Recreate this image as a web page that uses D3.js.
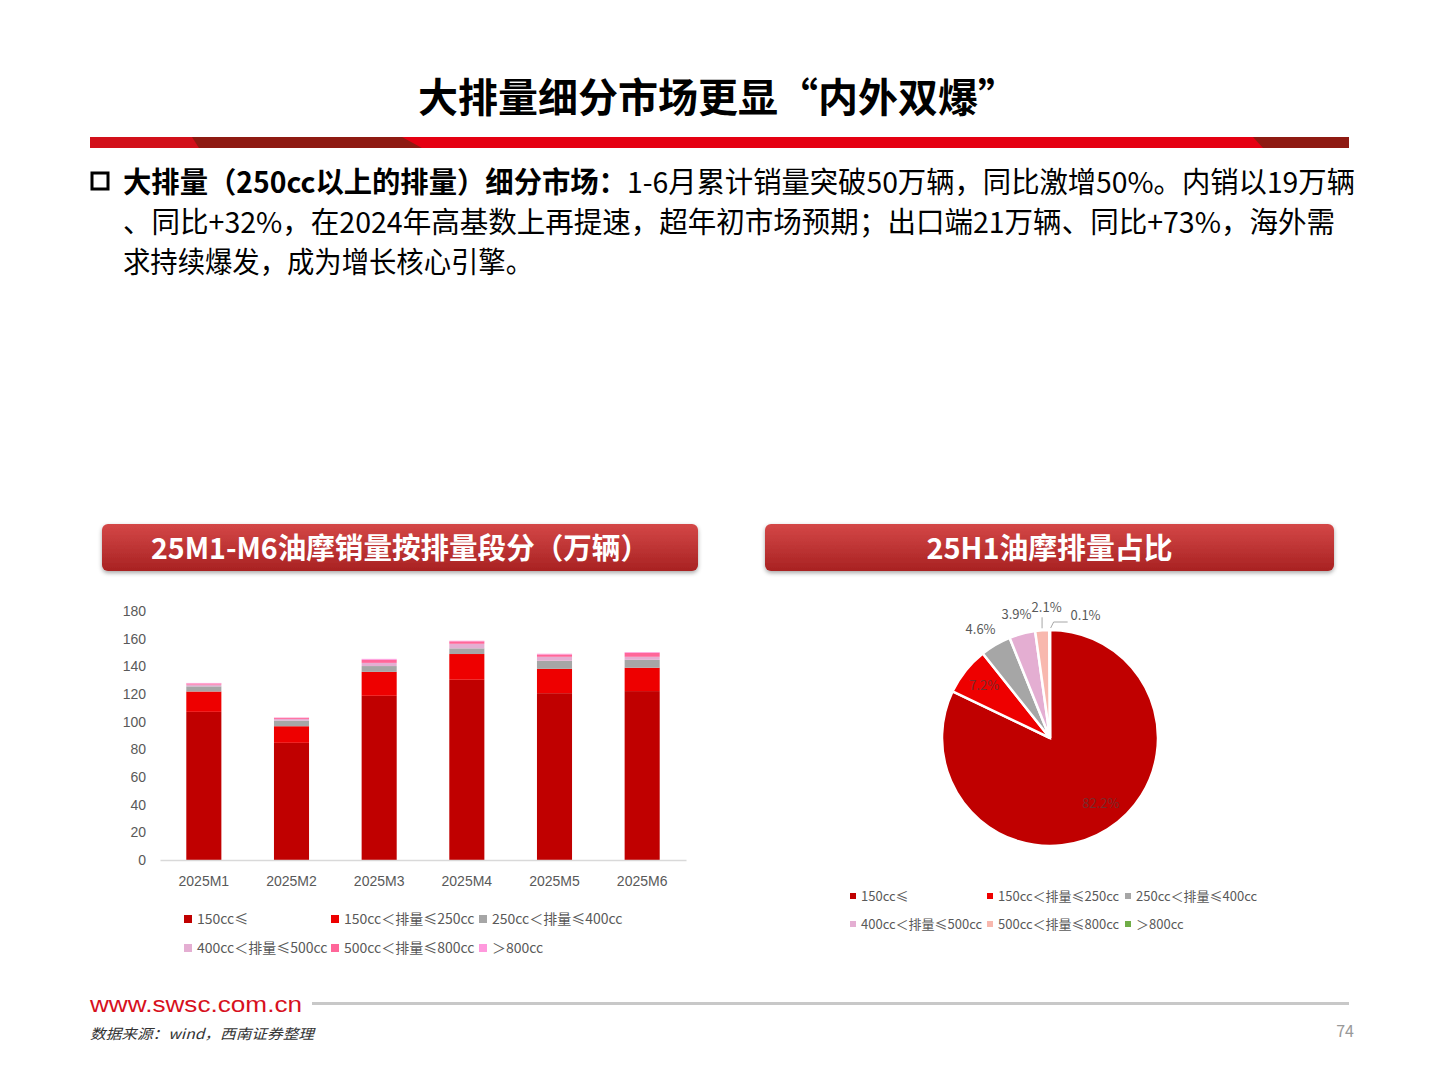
<!DOCTYPE html>
<html><head><meta charset="utf-8">
<script src="https://cdn.jsdelivr.net/npm/d3@7"></script>
<style>
html,body{margin:0;padding:0;background:#fff;}
svg{display:block;font-family:"Noto Sans CJK SC","Noto Sans",sans-serif;}
</style></head>
<body>
<svg id="c" width="1440" height="1080"></svg>
<script>
// ---- data ----
const months = ["2025M1","2025M2","2025M3","2025M4","2025M5","2025M6"];
const segments = ["150cc≤","150cc＜排量≤250cc","250cc＜排量≤400cc","400cc＜排量≤500cc","500cc＜排量≤800cc","＞800cc"];
const s150 = [107.1, 84.7, 118.7, 130.3, 120.6, 122.1];
const s250 = [14.7, 12.0, 17.3, 18.6, 17.6, 16.9];
const s400 = [3.7, 4.1, 4.2, 4.1, 5.8, 5.7];
const s500 = [1.3, 1.2, 2.3, 3.3, 2.9, 2.2];
const s800 = [0.8, 0.8, 2.2, 1.8, 1.7, 2.9];
const sOver = [0.4, 0.2, 0.7, 0.4, 0.5, 0.5];
const yTicks = [0,20,40,60,80,100,120,140,160,180];
const pieShares = [82.2, 7.2, 4.6, 3.9, 2.1, 0.1];
const pieLabels = ["82.2%","7.2%","4.6%","3.9%","2.1%","0.1%"];

const barColors = ["#C00000","#EE0000","#A6A6A6","#E4AED2","#FF6699","#FF99DD"];
const pieColors = ["#C00000","#EE0000","#A6A6A6","#E4AED2","#F8B8AE","#70AD47"];

const svg = d3.select("#c");
const defs = svg.append("defs");
const g1 = defs.append("linearGradient").attr("id","hdr").attr("x1",0).attr("y1",0).attr("x2",0).attr("y2",1);
g1.append("stop").attr("offset","0%").attr("stop-color","#D44747");
g1.append("stop").attr("offset","100%").attr("stop-color","#A82222");
const f = defs.append("filter").attr("id","sh").attr("x","-5%").attr("y","-20%").attr("width","110%").attr("height","160%");
f.append("feDropShadow").attr("dx",0).attr("dy",2).attr("stdDeviation",2).attr("flood-color","#000").attr("flood-opacity",0.35);

// ---- title ----
svg.append("text").attr("x",418).attr("y",112).attr("text-anchor","start")
  .attr("font-size",40).attr("font-weight","bold").attr("fill","#000")
  .attr("textLength",600).attr("lengthAdjust","spacingAndGlyphs")
  .text("大排量细分市场更显“内外双爆”");

// red rule with segments
const rule = svg.append("g");
rule.append("rect").attr("x",90).attr("y",137).attr("width",1259).attr("height",11).attr("fill","#E50012");
rule.append("polygon").attr("points","90,137 192,137 199,148 90,148").attr("fill","#D2101A");
rule.append("polygon").attr("points","192,137 402,137 422,148 199,148").attr("fill","#8E1A12");
rule.append("polygon").attr("points","1253,137 1349,137 1349,148 1263,148").attr("fill","#8E1A12");

// ---- paragraph ----
svg.append("rect").attr("x",92).attr("y",173).attr("width",16).attr("height",16)
  .attr("fill","none").attr("stroke","#000").attr("stroke-width",3);
const p1 = svg.append("text").attr("x",123).attr("y",193).attr("font-size",29).attr("fill","#000")
  .attr("textLength",1232).attr("lengthAdjust","spacingAndGlyphs");
p1.append("tspan").attr("font-weight","bold").text("大排量（250cc以上的排量）细分市场：");
p1.append("tspan").text("1-6月累计销量突破50万辆，同比激增50%。内销以19万辆");
svg.append("text").attr("x",123).attr("y",233).attr("font-size",29).attr("fill","#000")
  .attr("textLength",1212).attr("lengthAdjust","spacingAndGlyphs")
  .text("、同比+32%，在2024年高基数上再提速，超年初市场预期；出口端21万辆、同比+73%，海外需");
svg.append("text").attr("x",123).attr("y",273).attr("font-size",29).attr("fill","#000")
  .attr("textLength",410).attr("lengthAdjust","spacingAndGlyphs")
  .text("求持续爆发，成为增长核心引擎。");

// ---- panel headers ----
function header(x,w,label,tl){
  svg.append("rect").attr("x",x).attr("y",524).attr("width",w).attr("height",47).attr("rx",6)
    .attr("fill","url(#hdr)").attr("filter","url(#sh)");
  svg.append("text").attr("x",x+w/2).attr("y",559).attr("text-anchor","middle")
    .attr("font-size",29).attr("font-weight","bold").attr("fill","#fff")
    .attr("textLength",tl).attr("lengthAdjust","spacingAndGlyphs").text(label);
}
header(102,596,"25M1-M6油摩销量按排量段分（万辆）",498);
header(765,569,"25H1油摩排量占比",246);

// ---- stacked bar chart ----
const series = [s150,s250,s400,s500,s800,sOver];
const table = months.map((m,i)=>{const o={month:m}; segments.forEach((s,k)=>o[s]=series[k][i]); return o;});
const stack = d3.stack().keys(segments)(table);
const x = d3.scaleBand().domain(months).range([160,686]).paddingInner(0.6).paddingOuter(0.3);
const y = d3.scaleLinear().domain([0,180]).range([860,611]);

const barG = svg.append("g");
stack.forEach((layer,k)=>{
  barG.append("g").attr("fill",barColors[k]).selectAll("rect").data(layer).enter().append("rect")
    .attr("x",d=>x(d.data.month)).attr("width",x.bandwidth())
    .attr("y",d=>y(d[1])).attr("height",d=>y(d[0])-y(d[1]));
});
// axes
const yAx = svg.append("g").attr("transform","translate(152,0)")
  .call(d3.axisLeft(y).tickValues(yTicks).tickSize(0).tickPadding(6));
yAx.select(".domain").remove();
yAx.selectAll("text").attr("font-size",14).attr("fill","#595959").attr("font-family","Liberation Sans, Arial, sans-serif");
const xAx = svg.append("g").attr("transform","translate(0,860)")
  .call(d3.axisBottom(x).tickSize(0).tickPadding(16));
xAx.select(".domain").attr("stroke","#D9D9D9").attr("stroke-width",1.5);
xAx.selectAll("text").attr("font-size",14).attr("fill","#595959").attr("font-family","Liberation Sans, Arial, sans-serif");

// left legend
const legPos = [[184,919],[331,919],[479,919],[184,948],[331,948],[479,948]];
segments.forEach((s,k)=>{
  const [lx,ly] = legPos[k];
  svg.append("rect").attr("x",lx).attr("y",ly-4).attr("width",8).attr("height",8).attr("fill",barColors[k]);
  svg.append("text").attr("x",lx+13).attr("y",ly+5).attr("font-size",14).attr("fill","#595959").text(s);
});

// ---- pie ----
const cx = 1050, cy = 738, R = 108;
const pie = d3.pie().sort(null).value(d=>d)(pieShares);
const arc = d3.arc().innerRadius(0).outerRadius(R);
const pg = svg.append("g").attr("transform",`translate(${cx},${cy})`);
pg.selectAll("path").data(pie).enter().append("path")
  .attr("d",arc).attr("fill",(d,i)=>pieColors[i]).attr("stroke","#fff").attr("stroke-width",2.5);

// inner labels
const inArc = d3.arc().innerRadius(R*0.78).outerRadius(R*0.78);
const inOffsets = {0:[6,-6],1:[0,0]};
[0,1].forEach(i=>{
  const c = inArc.centroid(pie[i]);
  pg.append("text").attr("x",c[0]+inOffsets[i][0]).attr("y",c[1]+inOffsets[i][1]+5).attr("text-anchor","middle")
    .attr("font-size",13).attr("fill","#7A2B2B").text(pieLabels[i]);
});
// outer labels
const outArc = d3.arc().innerRadius(R+22).outerRadius(R+22);
const outOffsets = {2:[-4,3],3:[0,2],4:[6,-1],5:[36,7]};
[2,3,4,5].forEach(i=>{
  const c = outArc.centroid(pie[i]);
  const [dx,dy] = outOffsets[i];
  pg.append("text").attr("x",c[0]+dx).attr("y",c[1]+dy+5).attr("text-anchor","middle")
    .attr("font-size",13).attr("fill","#595959").text(pieLabels[i]);
});
// leader lines for small slices
const edge = d3.arc().innerRadius(R+2).outerRadius(R+2);
const e4 = edge.centroid(pie[4]);
pg.append("polyline").attr("points",`${e4[0]},${e4[1]} ${e4[0]},${e4[1]-11}`)
  .attr("fill","none").attr("stroke","#A6A6A6").attr("stroke-width",1);
const e5 = edge.centroid(pie[5]);
pg.append("polyline").attr("points",`${e5[0]+1},${e5[1]} ${e5[0]+4},${e5[1]-6} ${e5[0]+18},${e5[1]-6}`)
  .attr("fill","none").attr("stroke","#A6A6A6").attr("stroke-width",1);

// right legend
const rlegPos = [[850,896],[987,896],[1125,896],[850,924],[987,924],[1125,924]];
segments.forEach((s,k)=>{
  const [lx,ly] = rlegPos[k];
  svg.append("rect").attr("x",lx).attr("y",ly-3).attr("width",6).attr("height",6).attr("fill",pieColors[k]);
  svg.append("text").attr("x",lx+11).attr("y",ly+5).attr("font-size",13).attr("fill","#595959").text(s);
});

// ---- footer ----
svg.append("text").attr("x",90).attr("y",1012).attr("font-size",22)
  .attr("font-family","Liberation Sans, Arial, sans-serif").attr("fill","#D7101D")
  .attr("textLength",212).attr("lengthAdjust","spacingAndGlyphs").text("www.swsc.com.cn");
svg.append("rect").attr("x",312).attr("y",1002).attr("width",1037).attr("height",3).attr("fill","#C8C8C8");
svg.append("text").attr("x",90).attr("y",1039).attr("font-size",14).attr("font-style","italic")
  .attr("fill","#333").attr("textLength",224).attr("lengthAdjust","spacingAndGlyphs")
  .text("数据来源：wind，西南证券整理");
svg.append("text").attr("x",1354).attr("y",1037).attr("text-anchor","end").attr("font-size",16)
  .attr("fill","#999").text("74");
</script>
</body></html>
